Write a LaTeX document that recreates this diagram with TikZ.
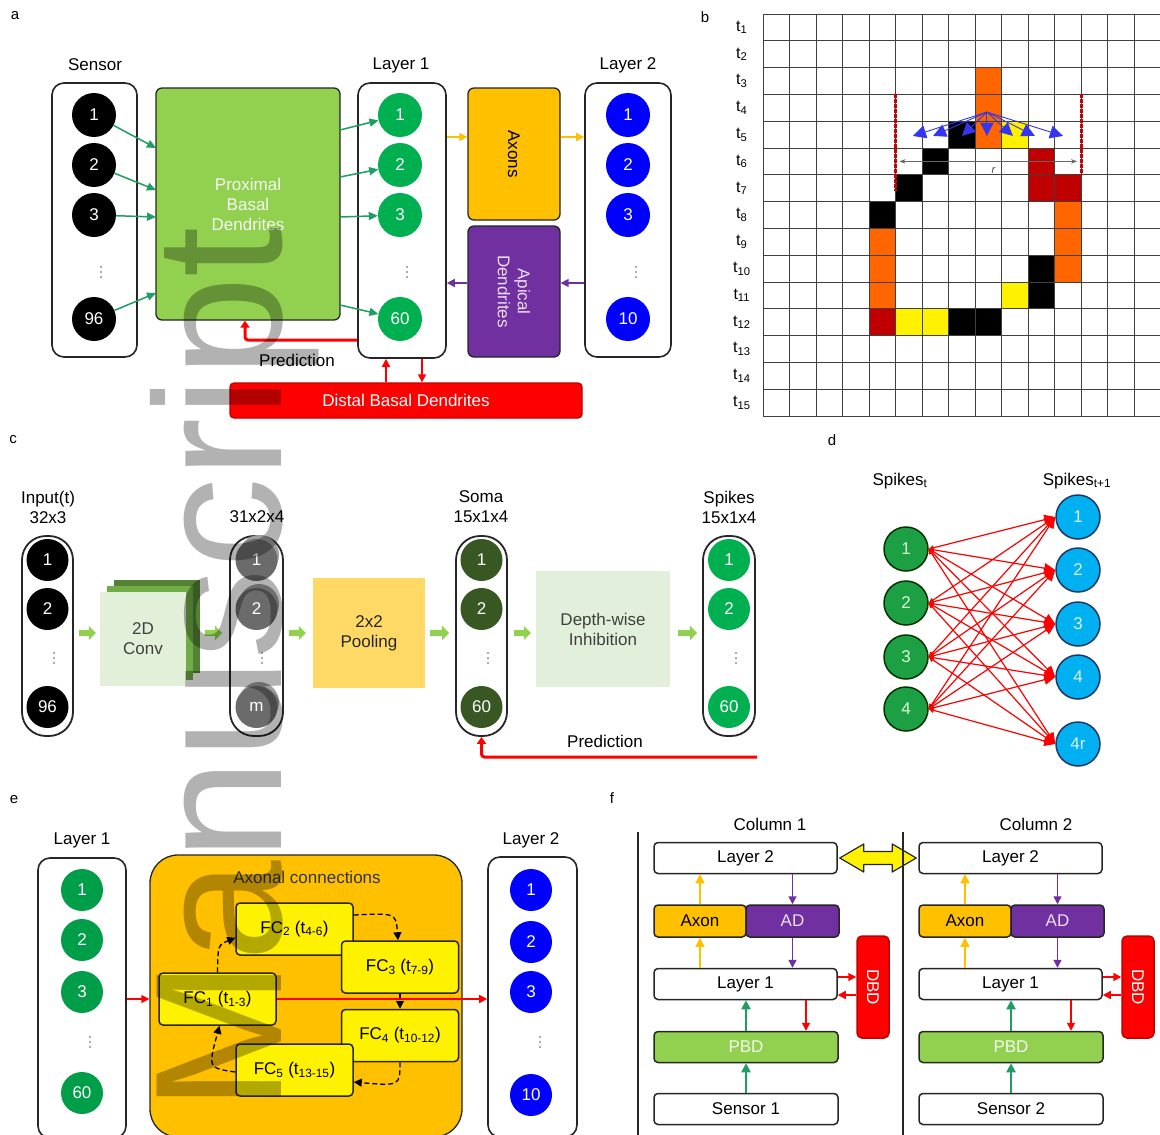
\documentclass[tikz,border=0pt]{standalone}
\usepackage{fontspec}
\setmainfont{Liberation Sans}
\usetikzlibrary{arrows.meta,calc}
\definecolor{pbdg}{HTML}{92D050}
\definecolor{lgreen}{HTML}{00B050}
\definecolor{agreen}{HTML}{1E9E62}
\definecolor{lblue}{HTML}{0000FF}
\definecolor{axo}{HTML}{FFC000}
\definecolor{apu}{HTML}{7030A0}
\definecolor{dred}{HTML}{FF0000}
\definecolor{dkred}{HTML}{C00000}
\definecolor{orng}{HTML}{FF6600}
\definecolor{soma}{HTML}{385723}
\definecolor{pool}{HTML}{FFD966}
\definecolor{depth}{HTML}{E2EFDA}
\definecolor{convf}{HTML}{E2F0D9}
\definecolor{convm}{HTML}{70AD47}
\definecolor{convd}{HTML}{548235}
\definecolor{cyanb}{HTML}{00B0F0}
\definecolor{navy}{HTML}{1F3864}
\definecolor{dgreen}{HTML}{1DA043}
\definecolor{bluea}{HTML}{3535F0}
\begin{document}
\begin{tikzpicture}[x=1pt,y=-1pt,
  lab/.style={font=\fontsize{17}{20}\selectfont},
  plab/.style={font=\fontsize{15}{17}\selectfont},
  colbox/.style={draw=black!85, line width=1.6, rounded corners=12, fill=white},
  capsule/.style={draw=black!85, line width=1.8, rounded corners=24},
  blk/.style={draw=black!85, line width=1.3, rounded corners=6},
  neur/.style={circle, minimum size=44, inner sep=0, text=white, font=\fontsize{17}{19}\selectfont},
  neurc/.style={circle, minimum size=42, inner sep=0, text=white, font=\fontsize{17}{19}\selectfont},
  dneur/.style={circle, minimum size=44, inner sep=0, line width=1.5, font=\fontsize{17}{19}\selectfont},
  fcbox/.style={draw=black!85, line width=1.5, fill=yellow, rounded corners=4, minimum width=117, minimum height=52, font=\fontsize{17}{20}\selectfont},
  fbox/.style={draw=black!85, line width=1.5, rounded corners=4, minimum height=31, fill=white, font=\fontsize{17}{20}\selectfont},
  garr/.style={draw=agreen, line width=1.5, -{Triangle[length=9pt,width=8pt]}},
  oarr/.style={draw=axo, line width=1.5, -{Triangle[length=8pt,width=8pt]}},
  parr/.style={draw=apu, line width=1.5, -{Triangle[length=8pt,width=8pt]}},
  rarr/.style={draw=dred, line width=1.5, -{Triangle[length=8pt,width=8pt]}},
  predarr/.style={draw=dred, line width=3, rounded corners=3, -{Triangle[length=7pt,width=9pt]}},
  sarr/.style={draw=pbdg, line width=6, -{Triangle[length=7pt,width=14pt]}},
  darr2/.style={draw=dred, line width=1.2, {Triangle[length=5pt,width=5pt]}-{Triangle[length=11pt,width=10pt]}},
  dsh/.style={draw=black, line width=1.3, dash pattern=on 5pt off 3pt, -{Triangle[length=8pt,width=8pt]}},
  barr/.style={draw=bluea, line width=0.9, -{Triangle[length=13pt,width=13pt]}},
  yarr/.style={draw=axo, line width=1.3, -{Triangle[length=9pt,width=9pt]}},
  garr2/.style={draw=agreen, line width=2, -{Triangle[length=9pt,width=9pt]}},
  gridl/.style={draw=black!75, line width=0.9},
  rdash/.style={draw=dred!80!black, line width=3, dash pattern=on 4pt off 1pt},
  vdot/.pic={\foreach \d in {-5,0,5} \fill[black!65] (0,\d) circle (0.9);},
]
\useasboundingbox (0,0) rectangle (1160,1135);
\fill[white] (0,0) rectangle (1160,1135);

%================ panel a
\node[plab] at (15,16) {a};
\node[lab] at (95,65) {Sensor};
\node[lab] at (401,65) {Layer 1};
\node[lab] at (628,65) {Layer 2};
\node[colbox, minimum width=85, minimum height=274] (sbox) at (94.5,220) {};
\node[colbox, minimum width=88, minimum height=275] (l1box) at (402,220.5) {};
\node[colbox, minimum width=86, minimum height=274] (l2box) at (628,220) {};
\node[blk, fill=pbdg, minimum width=184, minimum height=232] (pbd) at (248,204) {};
\node[lab, align=center, text=white!92!pbdg] at (pbd) {Proximal\\Basal\\Dendrites};
\node[blk, fill=axo, minimum width=92, minimum height=132] (axons) at (514,154) {};
\node[lab, rotate=-90] at (axons) {Axons};
\node[blk, fill=apu, minimum width=92, minimum height=131] (apical) at (514,291.5) {};
\node[lab, rotate=-90, align=center, text=white!85!apu] at (apical) {Apical\\Dendrites};
\node[draw=dkred, line width=1.3, fill=dred, rounded corners=4, minimum width=352, minimum height=35, lab, text=white] (distal) at (406,400.5) {Distal Basal Dendrites};

\foreach \y/\t [count=\i] in {115/1,165/2,215/3,319/96}
  \node[neur, fill=black] (s\i) at (94,\y) {\t};
\foreach \y/\t [count=\i] in {115/1,165/2,215/3,319/60}
  \node[neur, fill=lgreen] (a\i) at (400,\y) {\t};
\foreach \y/\t [count=\i] in {115/1,165/2,215/3,319/10}
  \node[neur, fill=lblue] (b\i) at (628,\y) {\t};
\pic at (101,272) {vdot};
\pic at (407,272) {vdot};
\pic at (636,272) {vdot};

\foreach \i/\y in {1/148,2/190,3/217,4/293}{
  \coordinate (pi\i) at (156,\y);
  \draw[garr] (s\i) -- (pi\i);
}
\foreach \i/\y in {1/130,2/177,3/217,4/305}{
  \coordinate (po\i) at (340,\y);
  \draw[garr] (po\i) -- (a\i);
}
\coordinate (ya) at (0,137);
\draw[oarr] (l1box.east |- ya) -- (axons.west |- ya);
\draw[oarr] (axons.east |- ya) -- (l2box.west |- ya);
\coordinate (yp) at (0,283);
\draw[parr] (apical.west |- yp) -- (l1box.east |- yp);
\draw[parr] (l2box.west |- yp) -- (apical.east |- yp);
\coordinate (yq) at (0,340);
\draw[predarr] (l1box.west |- yq) -| ($(pbd.south)+(-3,0)$);
\node[lab] at (297,360) {Prediction};
\draw[rarr] ($(distal.north)+(-20,0)$) -- ($(l1box.south)+(-16,0)$);
\draw[rarr] ($(l1box.south)+(20,0)$) -- ($(distal.north)+(16,0)$);

%================ panel b
\node[plab] at (705,17) {b};
\begin{scope}[shift={(763,14)},x=26.5pt,y=-26.8pt]
  \foreach \c/\r in {8/2,8/3,8/4,11/7,11/8,11/9,4/8,4/9,4/10}
    \fill[orng] (\c,\r) rectangle ++(1,1);
  \foreach \c/\r in {7/4,6/5,5/6,4/7,10/9,10/10,7/11,8/11}
    \fill[black] (\c,\r) rectangle ++(1,1);
  \foreach \c/\r in {9/4,9/10,5/11,6/11}
    \fill[yellow] (\c,\r) rectangle ++(1,1);
  \foreach \c/\r in {10/5,10/6,11/6,4/11}
    \fill[dkred] (\c,\r) rectangle ++(1,1);
  \foreach \i in {0,...,15}{
    \draw[gridl] (\i,0) -- (\i,15);
    \draw[gridl] (0,\i) -- (15,\i);
  }
  \foreach \k in {1,...,15}
    \node[font=\fontsize{16}{18}\selectfont] at (-0.8,\k-0.5) {t\textsubscript{\k}};
  \draw[rdash] (5,3) -- (5,6.6);
  \draw[rdash] (12,3) -- (12,6.0);
  \draw[black!60, line width=0.8, {Stealth[length=6pt]}-{Stealth[length=6pt]}] (5.15,5.5) -- (11.85,5.5);
  \node[font=\fontsize{11}{12}\selectfont\itshape, text=black!70] at (8.7,5.85) {r};
  \coordinate (bo) at (8.45,3.66);
  \foreach \x in {5.66,6.42,7.51,8.45,9.43,10.26,11.32}
    \draw[barr] (bo) -- (\x,4.55);
\end{scope}

%================ panel c
\node[plab] at (13,440) {c};
\node[lab, align=center] at (48,507) {Input(t)\\32x3};
\node[lab] at (257,517) {31x2x4};
\node[lab, align=center] at (481,507) {Soma\\15x1x4};
\node[lab, align=center] at (729,507) {Spikes\\15x1x4};
\node[capsule, minimum width=51, minimum height=200] (inbox) at (47.5,636) {};
\node[capsule, minimum width=53, minimum height=200] (cbox) at (256.5,636) {};
\node[capsule, minimum width=51, minimum height=200] (somabox) at (481.5,636) {};
\node[capsule, minimum width=52, minimum height=200] (spbox) at (729,636) {};
\foreach \y/\t/\n in {560/1/1,609/2/2,707/96/3}
  \node[neurc, fill=black] (in\n) at (47.5,\y) {\t};
\foreach \y/\t/\n in {560/1/1,609/2/2,707/m/3}{
  \fill[black!38] (259,\y-5) circle (20);
  \node[neurc, fill=black!58, text=white!80] (cv\n) at (256.5,\y) {\t};
}
\foreach \y/\t/\n in {560/1/1,609/2/2,707/60/3}
  \node[neurc, fill=soma] (so\n) at (481.5,\y) {\t};
\foreach \y/\t/\n in {560/1/1,609/2/2,707/60/3}
  \node[neurc, fill=lgreen] (sp\n) at (729,\y) {\t};
\pic at (54,658) {vdot};
\pic at (262,658) {vdot};
\pic at (488,658) {vdot};
\pic at (736,658) {vdot};

\node[fill=convd, minimum width=86, minimum height=93, inner sep=0] (convb) at (157,626.5) {};
\fill[convm] (107,586) rectangle (193,680);
\node[fill=convf, minimum width=86, minimum height=94, inner sep=0] (conv) at (143,639) {};
\node[lab, align=center, text=black!75] at (conv) {2D\\Conv};
\node[fill=pool, minimum width=112, minimum height=110, lab, align=center, text=black!85] (pool) at (369,633) {2x2\\Pooling};
\node[fill=depth, minimum width=134, minimum height=116, lab, align=center, text=black!75] (depth) at (603,629) {Depth-wise\\Inhibition};

\coordinate (ys) at (0,633);
\draw[sarr] ($(inbox.east |- ys)+(5,0)$) -- ($(conv.west |- ys)+(-4,0)$);
\draw[sarr] ($(convb.east |- ys)+(5,0)$) -- ($(cbox.west |- ys)+(-7,0)$);
\draw[sarr] ($(cbox.east |- ys)+(5,0)$) -- ($(pool.west |- ys)+(-7,0)$);
\draw[sarr] ($(pool.east |- ys)+(5,0)$) -- ($(somabox.west |- ys)+(-6,0)$);
\draw[sarr] ($(somabox.east |- ys)+(6,0)$) -- ($(depth.west |- ys)+(-5,0)$);
\draw[sarr] ($(depth.east |- ys)+(8,0)$) -- ($(spbox.west |- ys)+(-5,0)$);

\coordinate (cpr) at (757,757);
\draw[predarr] (cpr) -| (somabox.south);
\node[lab] at (605,741) {Prediction};

%================ panel d
\node[plab] at (832,440) {d};
\node[lab] at (900,481) {Spikes\textsubscript{t}};
\node[lab] at (1077,481) {Spikes\textsubscript{t+1}};
\foreach \y/\t [count=\i] in {549/1,603/2,657/3,709/4}
  \node[dneur, fill=dgreen, draw=black!80!green, text=white!85!green] (dl\i) at (906,\y) {\t};
\foreach \y/\t [count=\i] in {517/1,570/2,624/3,677/4,744/4r}
  \node[dneur, fill=cyanb, draw=navy, text=white!85!cyan] (dr\i) at (1078,\y) {\t};
\foreach \i in {1,...,4}
  \foreach \j in {1,...,5}
    \draw[darr2] (dl\i.east) -- (dr\j.west);

%================ panel e
\node[plab] at (14,800) {e};
\node[lab] at (82,840) {Layer 1};
\node[lab] at (531,840) {Layer 2};
\node[colbox, minimum width=88, minimum height=280] (l1e) at (82,998) {};
\node[colbox, minimum width=89, minimum height=280] (l2e) at (532.5,997) {};
\node[draw=black!85, line width=1.3, fill=axo, rounded corners=28, minimum width=312, minimum height=282] (axc) at (306,996) {};
\node[lab, text=black!80] at (307,877) {Axonal connections};
\node[fcbox] (fc2) at (294.5,929) {FC\textsubscript{2} (t\textsubscript{4-6})};
\node[fcbox] (fc3) at (400,967) {FC\textsubscript{3} (t\textsubscript{7-9})};
\node[fcbox] (fc1) at (217.5,999) {FC\textsubscript{1} (t\textsubscript{1-3})};
\node[fcbox] (fc4) at (400,1035.5) {FC\textsubscript{4} (t\textsubscript{10-12})};
\node[fcbox] (fc5) at (294.5,1070) {FC\textsubscript{5} (t\textsubscript{13-15})};
\foreach \y/\t [count=\i] in {890/1,940/2,992/3,1093/60}
  \node[neurc, fill=lgreen!90!black] (eg\i) at (82,\y) {\t};
\foreach \y/\t [count=\i] in {890/1,942/2,992/3,1095/10}
  \node[neurc, fill=lblue] (eb\i) at (531,\y) {\t};
\pic at (90,1042) {vdot};
\pic at (540,1042) {vdot};
\draw[dsh] (fc1.north) .. controls (218,945) .. ($(fc2.south west)+(0,-18)$);
\draw[dsh] ($(fc2.east)+(0,-14)$) .. controls (396,913) .. ($(fc3.north)+(-2,0)$);
\draw[dsh] (fc3.south) -- (fc4.north);
\draw[dsh] (fc4.south) .. controls (400,1086) .. ($(fc5.east)+(0,12)$);
\draw[dsh] ($(fc5.west)+(0,2)$) .. controls (208,1068) .. ($(fc1.south)+(2,0)$);
\draw[rarr] (l1e.east |- fc1) -- (axc.west |- fc1);
\draw[rarr] (fc1.east) -- (l2e.west |- fc1);

%================ panel f
\node[plab] at (612,798) {f};
\node[lab] at (770,824) {Column 1};
\node[lab] at (1036,824) {Column 2};
\foreach \dx/\k in {0/1,265/2}{
\begin{scope}[shift={(\dx,0)}]
  \node[fbox, minimum width=183] (fl2\k) at (745.5,858) {Layer 2};
  \node[fbox, fill=axo, minimum width=92, minimum height=32] (fax\k) at (700,921) {Axon};
  \node[fbox, fill=apu, text=white!85!apu, minimum width=93, minimum height=32] (fad\k) at (792.5,921) {AD};
  \node[fbox, minimum width=183] (fl1\k) at (745.5,984) {Layer 1};
  \node[fbox, fill=pbdg, text=white!90!pbdg, minimum width=184] (fpb\k) at (746,1047) {PBD};
  \node[fbox, minimum width=184] (fse\k) at (746,1109) {Sensor \k};
  \node[fbox, fill=dred, draw=dkred, minimum width=32, minimum height=102, rounded corners=5] (fdb\k) at (873,987) {};
  \node[lab, rotate=-90, text=white] at (fdb\k) {DBD};
  \draw[yarr] (fax\k.north) -- (fl2\k.south -| fax\k.north);
  \draw[yarr] (fl1\k.north -| fax\k.south) -- (fax\k.south);
  \draw[parr] (fl2\k.south -| fad\k.north) -- (fad\k.north);
  \draw[parr] (fad\k.south) -- (fl1\k.north -| fad\k.south);
  \draw[garr2] (fpb\k.north) -- (fl1\k.south -| fpb\k.north);
  \draw[garr2] (fse\k.north) -- (fpb\k.south);
  \coordinate (frx\k) at (806,0);
  \draw[rarr] (fl1\k.south -| frx\k) -- (fpb\k.north -| frx\k);
  \coordinate (fry\k) at (0,977);
  \coordinate (frz\k) at (0,995);
  \draw[rarr] (fl1\k.east |- fry\k) -- (fdb\k.west |- fry\k);
  \draw[rarr] (fdb\k.west |- frz\k) -- (fl1\k.east |- frz\k);
\end{scope}
}
% yellow double arrow between the two Layer 2 boxes
\draw[draw=black!85, line width=1.2, fill=yellow, line join=round]
  ($(fl21.east)+(2,0)$) -- ($(fl21.east)+(26,-14)$) -- ($(fl21.east)+(26,-6.5)$)
  -- ($(fl22.west)+(-26,-6.5)$) -- ($(fl22.west)+(-26,-14)$) -- ($(fl22.west)+(-2,0)$)
  -- ($(fl22.west)+(-26,14)$) -- ($(fl22.west)+(-26,6.5)$)
  -- ($(fl21.east)+(26,6.5)$) -- ($(fl21.east)+(26,14)$) -- cycle;
\draw[line width=1.3, black!85] (638,832) -- (638,1135);
\draw[line width=1.3, black!85] (903,832) -- (903,1135);

%================ watermark
\node[rotate=90, anchor=base west, inner sep=0, text=black, text opacity=0.3, font=\fontsize{181}{181}\selectfont] (wm) at (281,1112) {Manuscript};
\end{tikzpicture}
\end{document}
